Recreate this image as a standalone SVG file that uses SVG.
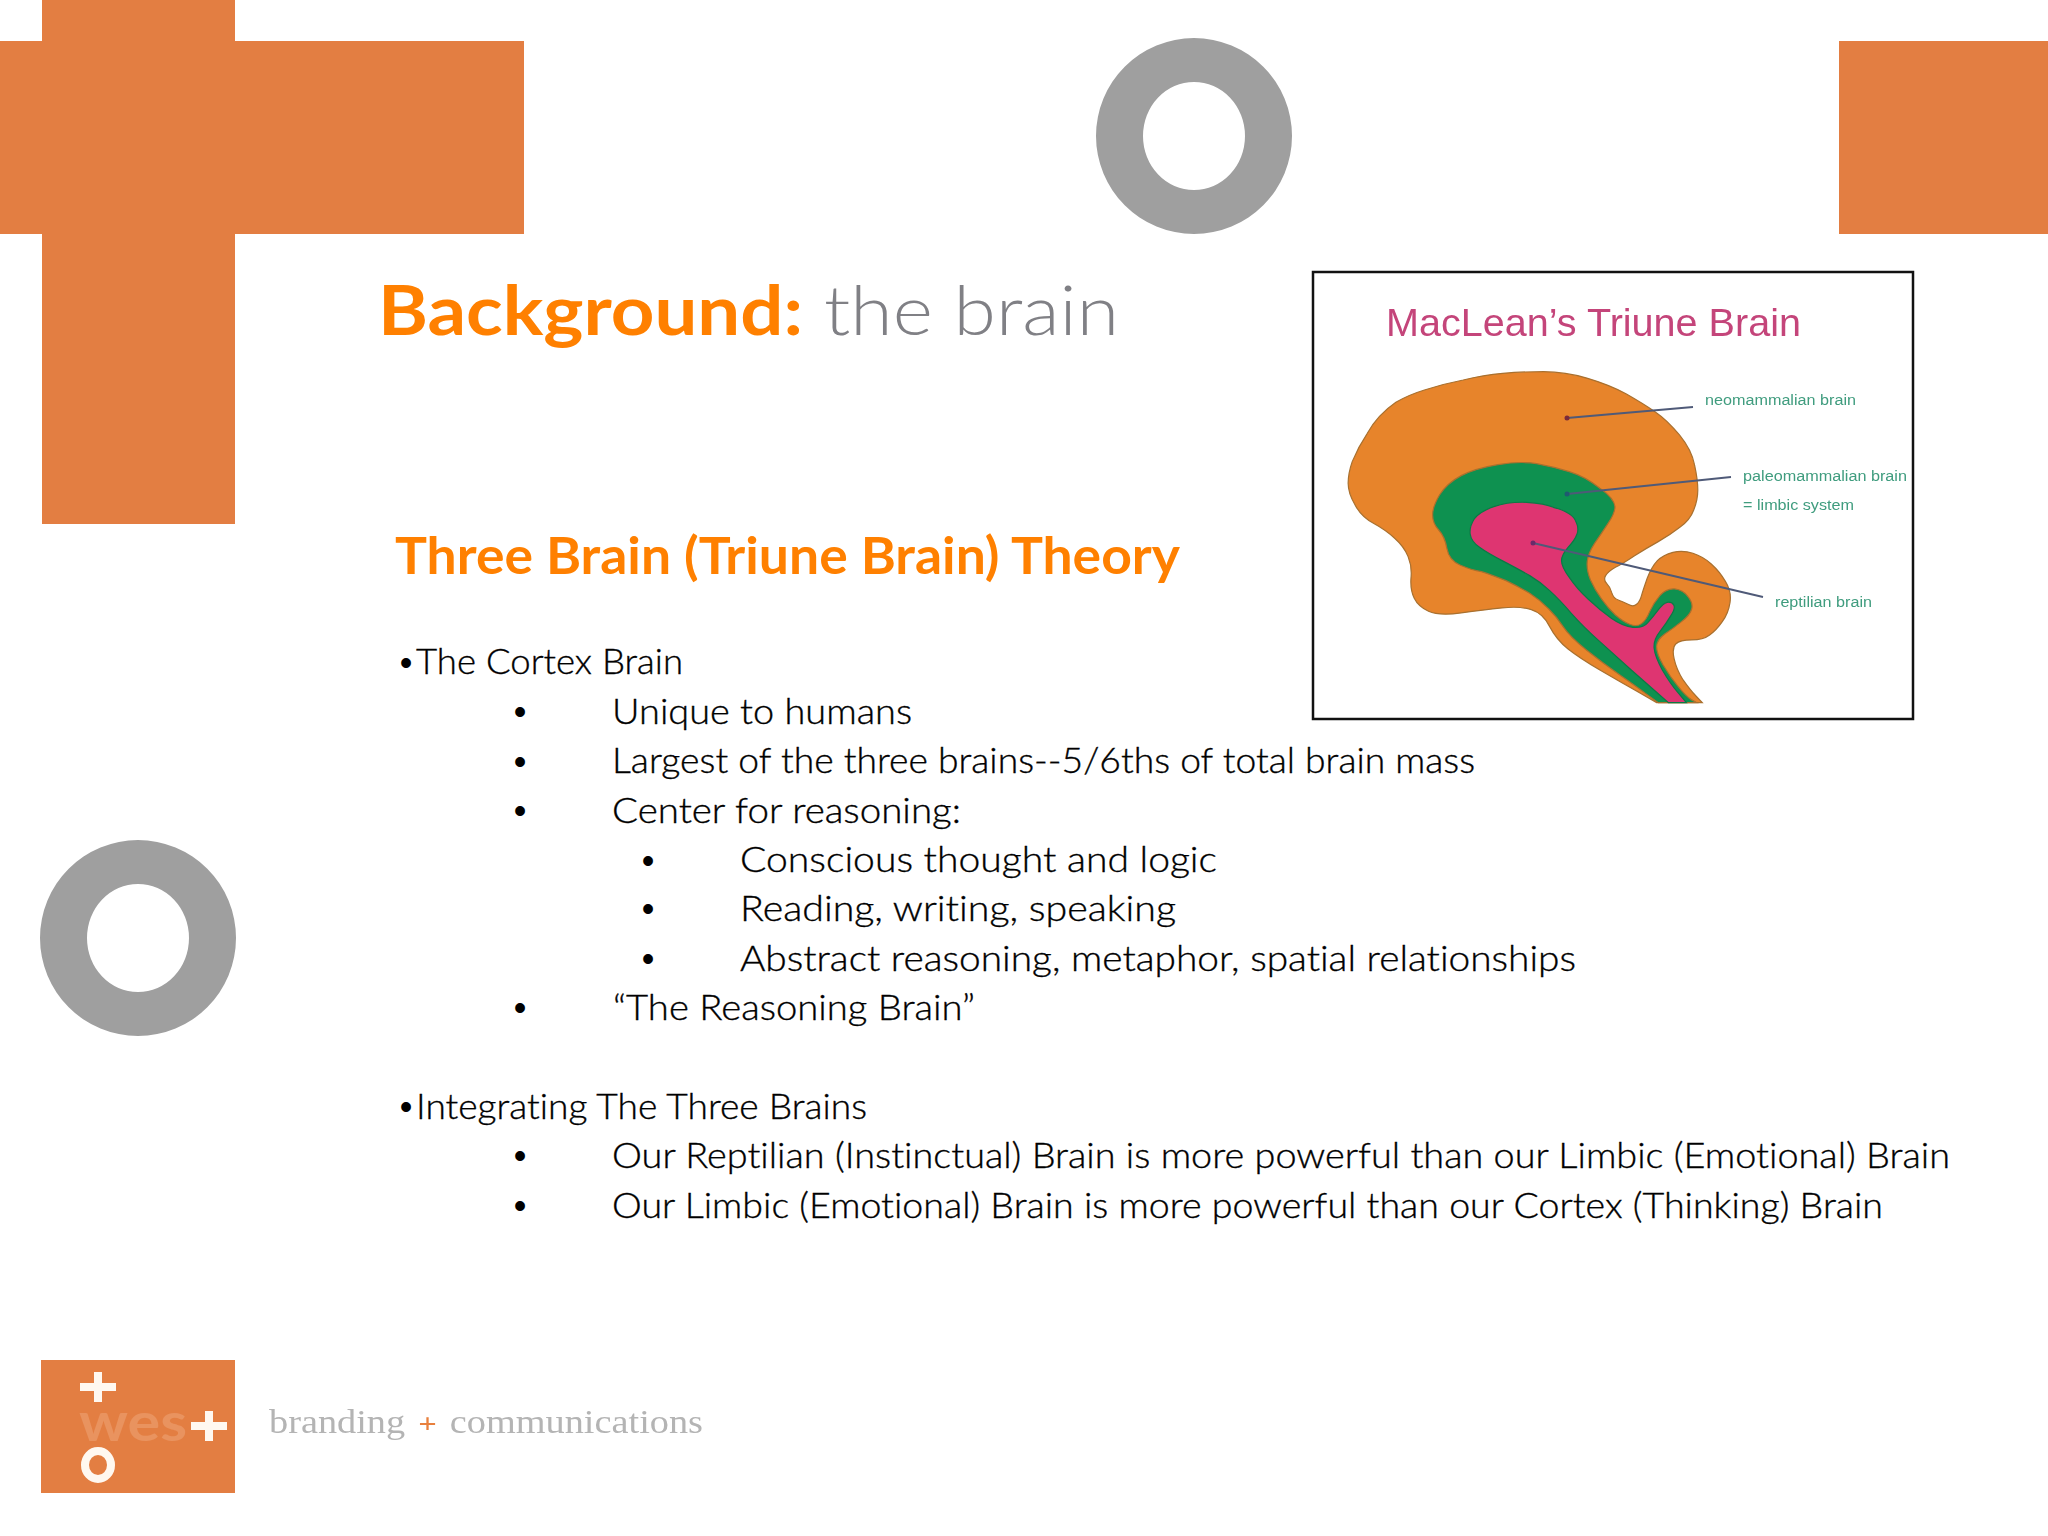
<svg xmlns="http://www.w3.org/2000/svg" width="2048" height="1536" viewBox="0 0 2048 1536">
<defs>
<style>
.o{fill:#E37E42}
.ring{fill:#9F9F9F}
.b{font-family:"Lato","Noto Sans",sans-serif;font-size:34.5px;font-weight:300;fill:#000000;stroke:#000000;stroke-width:0.35px;font-variant-ligatures:none}
.d{font-family:"Liberation Sans",sans-serif;font-size:36px;fill:#000000;text-anchor:middle}
.h{font-family:"Lato","Noto Sans",sans-serif;font-weight:700;fill:#FF8000;font-variant-ligatures:none}
.l{font-family:"Liberation Sans",Arial,sans-serif;font-size:15.5px;fill:#3F9C7E}
.s{vector-effect:non-scaling-stroke;stroke-width:1.2;stroke:#A8702F}
.c{stroke:#4F5A78;stroke-width:1.8;fill:none}
</style>
<filter id="soft" x="-5%" y="-20%" width="110%" height="140%"><feGaussianBlur stdDeviation="0.7"/></filter>
<filter id="soft2" x="-5%" y="-20%" width="110%" height="140%"><feGaussianBlur stdDeviation="0.35"/></filter>
</defs>
<rect width="2048" height="1536" fill="#FFFFFF"/>
<g id="deco">
<path class="o" d="M42,0H235V41H524V234H235V524H42V234H0V41H42Z"/>
<rect class="o" x="1839" y="41" width="209" height="193"/>
<path class="ring" fill-rule="evenodd" d="M1096,136a98,98 0 1,0 196,0a98,98 0 1,0 -196,0ZM1143,136a51,54 0 1,1 102,0a51,54 0 1,1 -102,0Z"/>
<path class="ring" fill-rule="evenodd" d="M40,938a98,98 0 1,0 196,0a98,98 0 1,0 -196,0ZM87,938a51,54 0 1,1 102,0a51,54 0 1,1 -102,0Z"/>
</g>
<g id="title">
<text class="h" x="378" y="335" font-size="69" textLength="425" lengthAdjust="spacingAndGlyphs">Background:</text>
<text x="824" y="335" font-family="Lato,'Noto Sans',sans-serif" font-weight="300" font-size="69" fill="#808085" textLength="295" lengthAdjust="spacingAndGlyphs">the brain</text>
</g>
<g id="heading">
<text class="h" x="395" y="574" font-size="51" textLength="785" lengthAdjust="spacingAndGlyphs">Three Brain (Triune Brain) Theory</text>
</g>
<g id="body">
<text class="d" x="406" y="675">•</text>
<text class="b" x="416" y="674" textLength="267" lengthAdjust="spacingAndGlyphs">The Cortex Brain</text>
<text class="d" x="520" y="724">•</text>
<text class="b" x="612" y="724" textLength="300" lengthAdjust="spacingAndGlyphs">Unique to humans</text>
<text class="d" x="520" y="774">•</text>
<text class="b" x="612" y="773" textLength="863" lengthAdjust="spacingAndGlyphs">Largest of the three brains--5/6ths of total brain mass</text>
<text class="d" x="520" y="823">•</text>
<text class="b" x="612" y="823" textLength="349" lengthAdjust="spacingAndGlyphs">Center for reasoning:</text>
<text class="d" x="648" y="873">•</text>
<text class="b" x="740" y="872" textLength="477" lengthAdjust="spacingAndGlyphs">Conscious thought and logic</text>
<text class="d" x="648" y="921">•</text>
<text class="b" x="740" y="921" textLength="436" lengthAdjust="spacingAndGlyphs">Reading, writing, speaking</text>
<text class="d" x="648" y="971">•</text>
<text class="b" x="740" y="971" textLength="836" lengthAdjust="spacingAndGlyphs">Abstract reasoning, metaphor, spatial relationships</text>
<text class="d" x="520" y="1020">•</text>
<text class="b" x="613" y="1020" textLength="362" lengthAdjust="spacingAndGlyphs">“The Reasoning Brain”</text>
<text class="d" x="406" y="1119">•</text>
<text class="b" x="416" y="1119" textLength="451" lengthAdjust="spacingAndGlyphs">Integrating The Three Brains</text>
<text class="d" x="520" y="1168">•</text>
<text class="b" x="612" y="1168" textLength="1338" lengthAdjust="spacingAndGlyphs">Our Reptilian (Instinctual) Brain is more powerful than our Limbic (Emotional) Brain</text>
<text class="d" x="520" y="1218">•</text>
<text class="b" x="612" y="1218" textLength="1271" lengthAdjust="spacingAndGlyphs">Our Limbic (Emotional) Brain is more powerful than our Cortex (Thinking) Brain</text>
</g>
<g id="figure">
<rect x="1313" y="272" width="600" height="447" fill="#FFFFFF" stroke="#111111" stroke-width="2.5"/>
<text x="1386" y="336" font-family="Liberation Sans,Arial,sans-serif" font-size="38.5" fill="#C4447A" textLength="415" lengthAdjust="spacingAndGlyphs" filter="url(#soft2)">MacLean’s Triune Brain</text>
<g id="brain" transform="translate(1300,260) scale(0.408,0.3333)">
<path class="s" fill="#E7842B" d="M497,340 Q545,335 597,335 Q650,335 705,355 Q760,375 800,402 Q840,430 870,455 Q900,480 930,525 Q960,570 967,615 Q975,660 975,690 Q975,720 965,750 Q956,780 931,802 Q907,825 878,845 Q849,865 820,887 Q792,910 773,922 Q755,935 749,947 Q743,960 752,971 Q761,982 764,998 Q768,1015 780,1020 Q792,1025 804,1033 Q817,1042 825,1033 Q833,1025 837,1007 Q841,990 851,955 Q862,920 876,902 Q890,885 914,877 Q939,870 963,880 Q988,890 1008,912 Q1029,935 1043,965 Q1058,995 1054,1027 Q1050,1060 1035,1085 Q1021,1110 1004,1125 Q988,1140 960,1140 Q931,1140 921,1152 Q911,1165 917,1197 Q923,1230 939,1260 Q956,1290 971,1309 L986,1328 L874,1328 L829,1296 Q784,1265 735,1230 Q686,1195 657,1167 Q629,1140 612,1100 Q596,1060 567,1049 Q539,1038 495,1044 Q450,1050 395,1059 Q340,1068 315,1054 Q290,1040 280,1015 Q270,990 272,955 Q275,920 265,890 Q255,860 232,835 Q210,810 180,790 Q150,770 135,735 Q118,700 118,670 Q118,640 128,605 Q143,560 165,520 Q190,465 235,427 Q265,405 305,390 Q350,372 400,360 Q450,345 497,340 Z"/>
<path class="s" fill="#0E9150" d="M485,614 Q540,603 580,611 Q620,620 660,635 Q700,650 735,685 Q770,715 772,740 Q772,760 755,790 Q739,820 722,850 Q706,880 704,905 Q702,930 712,960 Q723,990 739,1017 Q755,1045 773,1065 Q792,1085 808,1093 Q825,1102 837,1091 Q849,1080 857,1055 Q866,1030 882,1007 Q898,985 918,987 Q939,990 951,1010 Q964,1030 960,1047 Q956,1065 935,1085 Q915,1105 894,1122 Q874,1140 874,1160 Q874,1180 890,1215 Q907,1250 927,1280 Q947,1310 959,1319 L972,1328 L878,1328 L851,1304 Q825,1280 784,1245 Q743,1210 702,1170 Q661,1130 645,1100 Q629,1070 608,1045 Q588,1020 563,1000 Q539,982 505,962 Q470,945 445,935 Q420,930 392,915 Q365,900 360,865 Q355,830 340,810 Q325,790 325,765 Q325,740 342,705 Q360,670 395,647 Q430,625 485,614 Z"/>
<path class="s" fill="#DE3571" style="stroke:#0B7A45" d="M475,740 Q510,725 555,727 Q600,730 621,742 Q670,758 677,787 Q684,805 679,822 Q674,840 657,862 Q641,885 641,902 Q641,920 660,952 Q678,985 706,1017 Q735,1050 763,1075 Q792,1100 816,1102 Q841,1105 853,1087 Q866,1070 878,1050 Q890,1030 900,1027 Q911,1025 916,1035 Q921,1045 909,1067 Q898,1090 882,1115 Q866,1140 868,1165 Q870,1190 888,1230 Q907,1270 927,1299 L947,1328 L903,1328 L876,1299 Q849,1270 812,1230 Q776,1190 735,1145 Q694,1100 665,1060 Q637,1020 612,992 Q588,965 563,947 Q539,930 500,905 Q460,880 440,862 Q420,845 417,822 Q415,800 427,777 Q440,755 475,740 Z"/>
</g>
<g id="connectors">
<path class="c" d="M1567,418L1693,407"/>
<path class="c" d="M1567,494L1731,477"/>
<path class="c" d="M1533,543L1763,597"/>
<circle cx="1567" cy="418" r="2.5" fill="#7A2A3A"/>
<circle cx="1567" cy="494" r="2.5" fill="#1F5A70"/>
<circle cx="1533" cy="543" r="2.5" fill="#6A2A6A"/>
</g>
<g id="labels" filter="url(#soft2)">
<text class="l" x="1705" y="405" textLength="151" lengthAdjust="spacingAndGlyphs">neomammalian brain</text>
<text class="l" x="1743" y="481" textLength="164" lengthAdjust="spacingAndGlyphs">paleomammalian brain</text>
<text class="l" x="1743" y="510" textLength="111" lengthAdjust="spacingAndGlyphs">= limbic system</text>
<text class="l" x="1775" y="607" textLength="97" lengthAdjust="spacingAndGlyphs">reptilian brain</text>
</g>
</g>
<g id="logo">
<rect class="o" x="41" y="1360" width="194" height="133"/>
<path fill="#FFF8F0" d="M94,1372h8v11h14v8h-14v11h-8v-11h-14v-8h14Z"/>
<path fill="#FFF8F0" d="M205,1411h8v11h14v8h-14v11h-8v-11h-14v-8h14Z"/>
<ellipse cx="98" cy="1465" rx="13" ry="14" fill="none" stroke="#FFF8F0" stroke-width="8"/>
<text x="79" y="1441" font-family="Lato,'Noto Sans',sans-serif" font-size="54" font-weight="700" fill="#E9935F" textLength="108" lengthAdjust="spacingAndGlyphs" filter="url(#soft)">wes</text>
<text x="269" y="1433" font-family="Liberation Serif,'Times New Roman',serif" font-size="33" fill="#B4B4B4" word-spacing="3" textLength="434" lengthAdjust="spacingAndGlyphs" filter="url(#soft)">branding <tspan fill="#E8803E" font-weight="700" font-size="28">+</tspan> communications</text>
</g>
</svg>
